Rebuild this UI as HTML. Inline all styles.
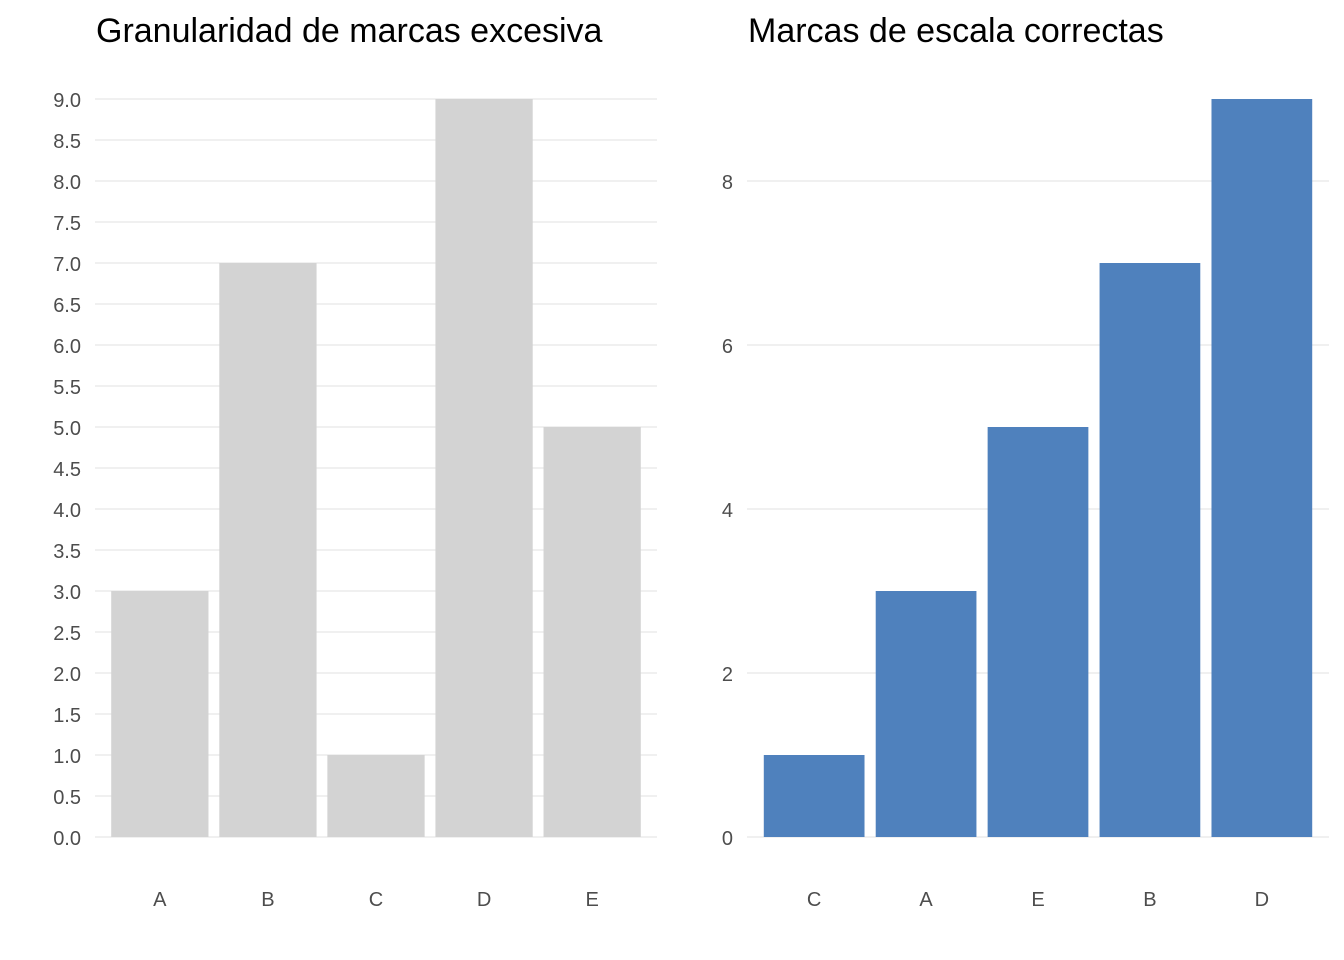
<!DOCTYPE html>
<html><head><meta charset="utf-8"><style>
body{margin:0;background:#fff;}
svg{display:block;font-family:"Liberation Sans",Arial,sans-serif;}
</style></head><body>
<svg id="chart" width="1344" height="960"></svg>
<script>
const leftCats = ["A","B","C","D","E"];
const leftVals = [3,7,1,9,5];
const leftTicks = ["0.0","0.5","1.0","1.5","2.0","2.5","3.0","3.5","4.0","4.5","5.0","5.5","6.0","6.5","7.0","7.5","8.0","8.5","9.0"];
const rightCats = ["C","A","E","B","D"];
const rightVals = [1,3,5,7,9];
const rightTicks = ["0","2","4","6","8"];

const NS="http://www.w3.org/2000/svg";
const svg=document.getElementById('chart');
function mk(tag,attrs,parent){const e=document.createElementNS(NS,tag);for(const k in attrs)e.setAttribute(k,attrs[k]);(parent||svg).appendChild(e);return e;}

function panel(cfg){
  const g=mk('g',{});
  
  
  const y=v=>837-v*82;
  const step=(cfg.x1-cfg.x0)/(cfg.cats.length+0.2);
  const xc=i=>cfg.x0+(0.6+i)*step;
  const t=mk('text',{x:cfg.titleX,y:42,'font-size':34,fill:'#000'},g);
  t.textContent=cfg.title;
  
  
  cfg.ticks.forEach(tl=>{
    const v=parseFloat(tl);
    const l=mk('line',{x1:cfg.x0,x2:cfg.x1,y1:y(v),y2:y(v),stroke:'#ebebeb','stroke-width':1.4},g);
    
    
    const tx=mk('text',{x:cfg.x0-14,y:y(v)+8,'font-size':20,fill:'#4d4d4d','text-anchor':'end'},g);
    tx.textContent=tl;
    
    
  });
  cfg.cats.forEach((c,i)=>{
    const w=step*0.9;
    const r=mk('rect',{x:xc(i)-w/2,y:y(cfg.vals[i]),width:w,height:y(0)-y(cfg.vals[i]),fill:cfg.color},g);
    
    
    const tx=mk('text',{x:xc(i),y:906,'font-size':20,fill:'#4d4d4d','text-anchor':'middle'},g);
    tx.textContent=c;
    
    
  });
}
panel({name:'left-panel',title:'Granularidad de marcas excesiva',titleX:96,x0:95,x1:657,cats:leftCats,vals:leftVals,ticks:leftTicks,color:'#d3d3d3'});
panel({name:'right-panel',title:'Marcas de escala correctas',titleX:748,x0:747,x1:1329,cats:rightCats,vals:rightVals,ticks:rightTicks,color:'#4f81bd'});
</script>
</body></html>
